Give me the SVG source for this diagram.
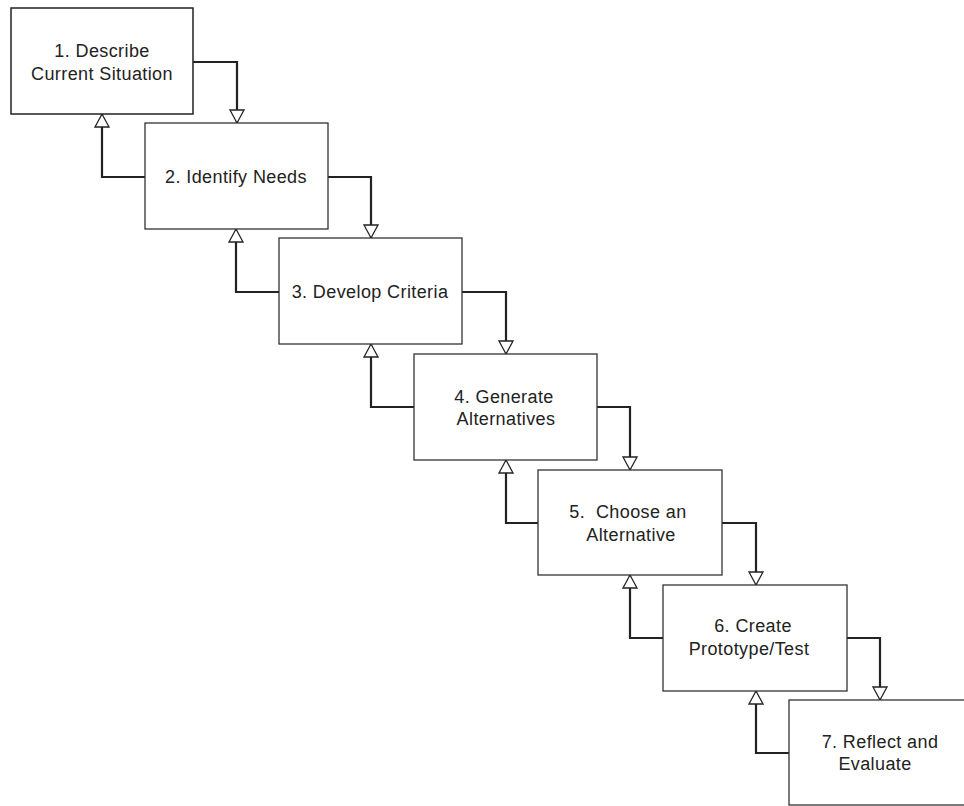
<svg xmlns="http://www.w3.org/2000/svg" width="964" height="806" viewBox="0 0 964 806">
<style>
.box{fill:#fff;stroke:#333;stroke-width:1.3}
.lbl{font-family:"Liberation Sans",Arial,sans-serif;font-size:18px;fill:#222;text-anchor:middle;letter-spacing:0.4px;white-space:pre}
.conn{fill:none;stroke:#222;stroke-width:2.2;marker-end:url(#arr)}
</style>
<defs>
<marker id="arr" markerUnits="userSpaceOnUse" viewBox="-1 -1 16 16" markerWidth="16" markerHeight="16" refX="13" refY="7" orient="auto" overflow="visible">
<path d="M0,0 L13,7 L0,14 Z" fill="#fff" stroke="#222" stroke-width="1.3" stroke-linejoin="miter"/>
</marker>
</defs>
<rect width="964" height="806" fill="#fff"/>
<g id="connectors">
<path class="conn" d="M193,62 H237 V123"/>
<path class="conn" d="M328,177 H371 V238"/>
<path class="conn" d="M462,292 H506 V354"/>
<path class="conn" d="M597,407 H630 V470"/>
<path class="conn" d="M722,523 H756 V585"/>
<path class="conn" d="M847,638 H880 V700"/>
<path class="conn" d="M145,177 H102 V114"/>
<path class="conn" d="M279,292 H236 V229"/>
<path class="conn" d="M414,407 H371 V344"/>
<path class="conn" d="M538,523 H506 V460"/>
<path class="conn" d="M663,638 H630 V575"/>
<path class="conn" d="M789,753 H756 V691"/>
</g>
<g id="node1">
<rect class="box" x="11" y="8" width="182" height="106" style="stroke:#222;stroke-width:1.5"/>
<text class="lbl" x="102" y="57">1. Describe</text>
<text class="lbl" x="102" y="80">Current Situation</text>
</g>
<g id="node2">
<rect class="box" x="145" y="123" width="183" height="106"/>
<text class="lbl" x="236" y="183">2. Identify Needs</text>
</g>
<g id="node3">
<rect class="box" x="279" y="238" width="183" height="106"/>
<text class="lbl" x="370" y="298">3. Develop Criteria</text>
</g>
<g id="node4">
<rect class="box" x="414" y="354" width="183" height="106"/>
<text class="lbl" x="504" y="403">4. Generate</text>
<text class="lbl" x="506" y="425">Alternatives</text>
</g>
<g id="node5">
<rect class="box" x="538" y="470" width="184" height="105"/>
<text class="lbl" x="628" y="518">5.  Choose an</text>
<text class="lbl" x="631" y="541">Alternative</text>
</g>
<g id="node6">
<rect class="box" x="663" y="585" width="184" height="106"/>
<text class="lbl" x="753" y="632">6. Create</text>
<text class="lbl" x="749" y="655">Prototype/Test</text>
</g>
<g id="node7">
<rect class="box" x="789" y="700" width="183" height="105"/>
<text class="lbl" x="880" y="748">7. Reflect and</text>
<text class="lbl" x="875" y="770">Evaluate</text>
</g>
</svg>
